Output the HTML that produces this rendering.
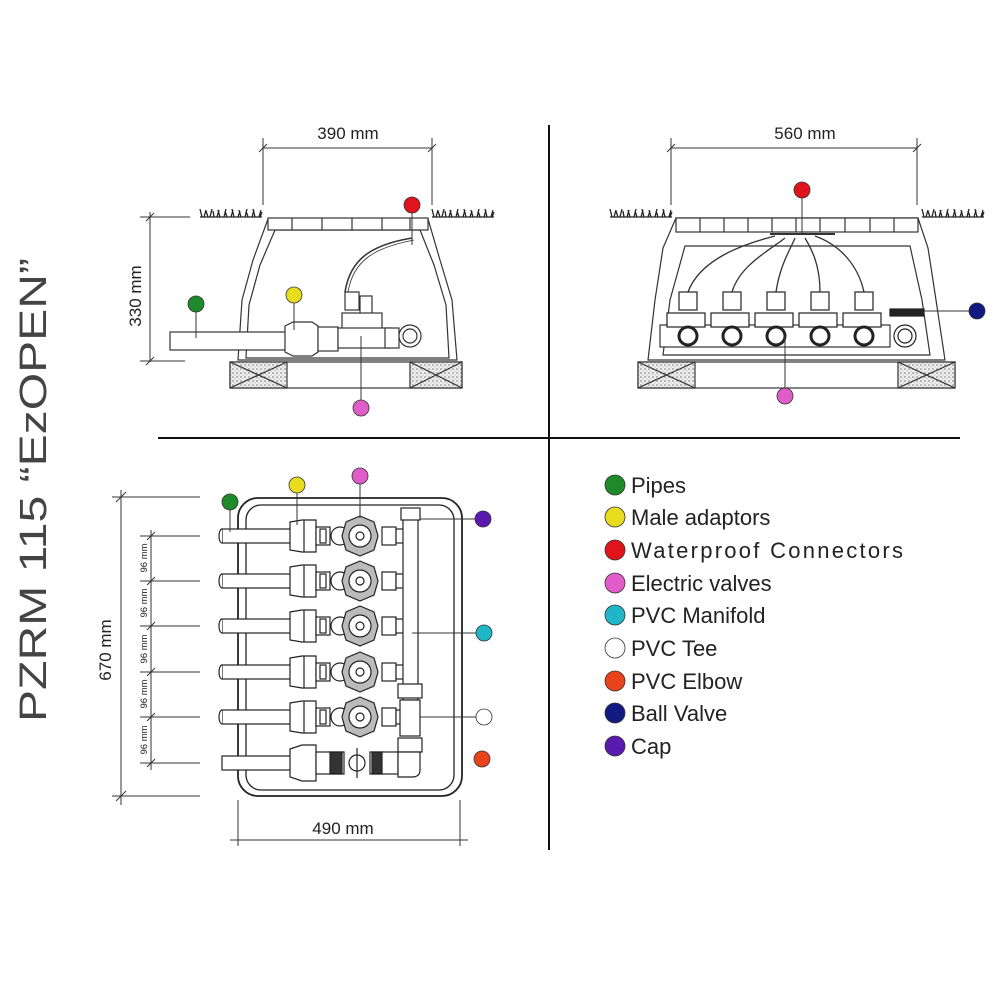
<!DOCTYPE html>
<html><head><meta charset="utf-8"><style>
html,body{margin:0;padding:0;background:#fff;}
svg{display:block}
text{font-family:"Liberation Sans",sans-serif;fill:#222}
</style></head><body>
<svg width="1000" height="1000" viewBox="0 0 1000 1000" xmlns="http://www.w3.org/2000/svg">
<defs>
<pattern id="hatch" width="4" height="4" patternUnits="userSpaceOnUse"><rect width="4" height="4" fill="#eee"/><circle cx="1" cy="1" r="0.8" fill="#777"/><circle cx="3" cy="3" r="0.5" fill="#999"/></pattern>
<g id="grass" stroke="#222" stroke-width="1.3" fill="none"><path d="M0 8 H62 M2 8 L0 0 M4 8 L6 1 M8 8 L6 2 M10 8 L12 0 M14 8 L13 2 M17 8 L19 1 M20 8 L18 1 M24 8 L26 0 M27 8 L25 2 M31 8 L33 1 M34 8 L32 0 M38 8 L40 2 M41 8 L39 1 M45 8 L47 0 M48 8 L46 2 M52 8 L54 1 M55 8 L53 0 M59 8 L61 1 M60 8 L62 3"/></g>
<g id="row" stroke="#222" stroke-width="1.2" fill="#fff">
<rect x="-20" y="-7" width="70" height="14"/>
<path d="M-20 -7 a3 7 0 0 0 0 14" />
<path d="M48 -14 L60 -16 H74 V16 H60 L48 14 Z"/>
<line x1="62" y1="-16" x2="62" y2="16"/>
<rect x="74" y="-9" width="14" height="18"/><rect x="78" y="-7" width="6" height="14"/>
<circle cx="98" cy="0" r="9"/>
<polygon points="118,-20 132,-14 136,0 132,14 118,20 104,14 100,0 104,-14" fill="#bbb"/>
<circle cx="118" cy="0" r="11"/><circle cx="118" cy="0" r="4"/>
<rect x="140" y="-9" width="14" height="18"/><rect x="154" y="-7" width="10" height="14"/>
</g>
</defs>

<text transform="translate(46,722) rotate(-90)" font-size="38" textLength="464" lengthAdjust="spacingAndGlyphs" style="fill:#444">PZRM 115 “EzOPEN”</text>

<line x1="549" y1="125" x2="549" y2="850" stroke="#111" stroke-width="2"/>
<line x1="158" y1="438" x2="960" y2="438" stroke="#111" stroke-width="2"/>

<g stroke="#333" stroke-width="1" fill="none">
<line x1="263" y1="148" x2="432" y2="148"/>
<line x1="263" y1="138" x2="263" y2="205"/><line x1="432" y1="138" x2="432" y2="205"/>
<line x1="259" y1="152" x2="267" y2="144"/><line x1="428" y1="152" x2="436" y2="144"/>
<line x1="150" y1="212" x2="150" y2="362"/>
<line x1="140" y1="217" x2="190" y2="217"/><line x1="140" y1="361" x2="185" y2="361"/>
<line x1="146" y1="221" x2="154" y2="213"/><line x1="146" y1="365" x2="154" y2="357"/>
</g>
<text x="348" y="139" font-size="17" text-anchor="middle">390 mm</text>
<text transform="translate(141,296) rotate(-90)" font-size="17" text-anchor="middle">330 mm</text>
<use href="#grass" x="200" y="209"/><use href="#grass" x="432" y="209"/>
<g stroke="#333" stroke-width="1.2" fill="#fff">
<path d="M268 219 H428 L440 260 L452 300 L457 360 H238 L242 300 L253 260 Z"/>
<path d="M275 230 H420 L434 265 L446 305 L449 358 H246 L249 305 L260 265 Z" fill="none"/>
<rect x="268" y="218" width="160" height="12"/>
<path d="M292 218 V230 M322 218 V230 M352 218 V230 M382 218 V230 M410 218 V230" />
<rect x="230" y="362" width="232" height="26"/>
<rect x="230" y="362" width="57" height="26" fill="url(#hatch)"/>
<rect x="410" y="362" width="52" height="26" fill="url(#hatch)"/>
<path d="M230 362 L287 388 M287 362 L230 388 M410 362 L462 388 M462 362 L410 388" fill="none"/>
<rect x="170" y="332" width="120" height="18"/>
<path d="M285 326 L293 322 H312 L318 326 V352 L312 356 H293 L285 352 Z"/>
<rect x="318" y="327" width="20" height="24"/>
<rect x="345" y="292" width="14" height="18"/><rect x="360" y="296" width="12" height="22"/>
<rect x="342" y="313" width="40" height="16"/>
<rect x="338" y="328" width="52" height="20"/>
<rect x="385" y="328" width="14" height="20"/>
<circle cx="410" cy="336" r="11"/><circle cx="410" cy="336" r="7"/>
</g>
<path d="M345 292 C350 260 370 245 412 238" stroke="#333" stroke-width="1.5" fill="none"/>
<path d="M348 292 C353 262 372 248 414 240" stroke="#333" stroke-width="0.8" fill="none"/>
<g stroke="#333" stroke-width="1"><line x1="196" y1="304" x2="196" y2="338"/><line x1="294" y1="295" x2="294" y2="330"/><line x1="412" y1="205" x2="412" y2="245"/><line x1="361" y1="336" x2="361" y2="408"/></g>
<g stroke="#333" stroke-width="0.8">
<circle cx="196" cy="304" r="8" fill="#1f8a2a"/><circle cx="294" cy="295" r="8" fill="#e8dc1e"/>
<circle cx="412" cy="205" r="8" fill="#e0141b"/><circle cx="361" cy="408" r="8" fill="#e05cc8"/>
</g>

<g stroke="#333" stroke-width="1" fill="none">
<line x1="671" y1="148" x2="917" y2="148"/>
<line x1="671" y1="138" x2="671" y2="205"/><line x1="917" y1="138" x2="917" y2="205"/>
<line x1="667" y1="152" x2="675" y2="144"/><line x1="913" y1="152" x2="921" y2="144"/>
</g>
<text x="805" y="139" font-size="17" text-anchor="middle">560 mm</text>
<use href="#grass" x="610" y="209"/><use href="#grass" x="922" y="209"/>
<g stroke="#333" stroke-width="1.2" fill="#fff">
<path d="M676 218 H918 L928 248 L936 300 L945 360 H648 L655 300 L663 248 Z"/>
<path d="M685 246 H910 L922 300 L930 355 H663 L670 300 Z" fill="none"/>
<rect x="676" y="218" width="242" height="14"/>
<path d="M700 218 V232 M724 218 V232 M748 218 V232 M772 218 V232 M796 218 V232 M820 218 V232 M845 218 V232 M870 218 V232 M894 218 V232"/>
<rect x="638" y="362" width="317" height="26"/>
<rect x="638" y="362" width="57" height="26" fill="url(#hatch)"/>
<rect x="898" y="362" width="57" height="26" fill="url(#hatch)"/>
<path d="M638 362 L695 388 M695 362 L638 388 M898 362 L955 388 M955 362 L898 388" fill="none"/>
<rect x="660" y="325" width="230" height="22"/>
</g>
<g stroke="#333" stroke-width="1.3" fill="none">
<path d="M688 292 C700 260 740 245 775 236"/><path d="M732 292 C740 265 770 250 785 238"/>
<path d="M776 292 C780 265 790 250 795 238"/><path d="M820 292 C820 265 812 250 805 238"/>
<path d="M864 292 C858 265 840 245 815 236"/>
<path d="M770 234 H835" stroke-width="2"/>
</g>
<g stroke="#222" stroke-width="1.2" fill="#fff">
<rect x="679" y="292" width="18" height="18"/><rect x="723" y="292" width="18" height="18"/><rect x="767" y="292" width="18" height="18"/><rect x="811" y="292" width="18" height="18"/><rect x="855" y="292" width="18" height="18"/>
<rect x="667" y="313" width="38" height="14"/><rect x="711" y="313" width="38" height="14"/><rect x="755" y="313" width="38" height="14"/><rect x="799" y="313" width="38" height="14"/><rect x="843" y="313" width="38" height="14"/>
<g stroke-width="3"><circle cx="688" cy="336" r="9"/><circle cx="732" cy="336" r="9"/><circle cx="776" cy="336" r="9"/><circle cx="820" cy="336" r="9"/><circle cx="864" cy="336" r="9"/></g>
<circle cx="905" cy="336" r="11"/><circle cx="905" cy="336" r="7"/>
<rect x="890" y="309" width="34" height="7" fill="#222"/>
</g>
<g stroke="#333" stroke-width="1"><line x1="802" y1="190" x2="802" y2="234"/><line x1="785" y1="336" x2="785" y2="396"/><line x1="924" y1="311" x2="977" y2="311"/></g>
<g stroke="#333" stroke-width="0.8">
<circle cx="802" cy="190" r="8" fill="#e0141b"/><circle cx="785" cy="396" r="8" fill="#e05cc8"/><circle cx="977" cy="311" r="8" fill="#101a80"/>
</g>

<g stroke="#333" stroke-width="1" fill="none">
<line x1="121" y1="490" x2="121" y2="805"/>
<line x1="112" y1="497" x2="200" y2="497"/><line x1="112" y1="796" x2="200" y2="796"/>
<line x1="116" y1="502" x2="126" y2="492"/><line x1="116" y1="801" x2="126" y2="791"/>
<line x1="151" y1="530" x2="151" y2="770"/>
<line x1="140" y1="536" x2="200" y2="536"/><line x1="140" y1="581" x2="200" y2="581"/><line x1="140" y1="626" x2="200" y2="626"/><line x1="140" y1="672" x2="200" y2="672"/><line x1="140" y1="717" x2="200" y2="717"/><line x1="140" y1="763" x2="200" y2="763"/>
<line x1="147" y1="540" x2="155" y2="532"/><line x1="147" y1="585" x2="155" y2="577"/><line x1="147" y1="630" x2="155" y2="622"/><line x1="147" y1="676" x2="155" y2="668"/><line x1="147" y1="721" x2="155" y2="713"/><line x1="147" y1="767" x2="155" y2="759"/>
<line x1="238" y1="800" x2="238" y2="846"/><line x1="460" y1="800" x2="460" y2="846"/>
<line x1="230" y1="840" x2="468" y2="840"/>
</g>
<text transform="translate(111,650) rotate(-90)" font-size="17" text-anchor="middle">670 mm</text>
<g font-size="9.5" text-anchor="middle">
<text transform="translate(147,558) rotate(-90)">96 mm</text>
<text transform="translate(147,603) rotate(-90)">96 mm</text>
<text transform="translate(147,649) rotate(-90)">96 mm</text>
<text transform="translate(147,694) rotate(-90)">96 mm</text>
<text transform="translate(147,740) rotate(-90)">96 mm</text>
</g>
<text x="343" y="834" font-size="17" text-anchor="middle">490 mm</text>
<rect x="238" y="498" width="224" height="298" rx="20" fill="none" stroke="#222" stroke-width="1.8"/>
<rect x="246" y="505" width="208" height="285" rx="15" fill="none" stroke="#222" stroke-width="1.3"/>
<use href="#row" x="242" y="536"/><use href="#row" x="242" y="581"/><use href="#row" x="242" y="626"/><use href="#row" x="242" y="672"/><use href="#row" x="242" y="717"/>
<g stroke="#222" stroke-width="1.2" fill="#fff">
<rect x="222" y="756" width="70" height="14"/>
<path d="M290 749 L302 745 H316 V781 H302 L290 777 Z"/>
<rect x="316" y="752" width="28" height="22"/><rect x="330" y="752" width="12" height="22" fill="#333"/>
<circle cx="357" cy="763" r="8"/><path d="M357 748 V778" />
<rect x="370" y="752" width="28" height="22"/><rect x="372" y="752" width="10" height="22" fill="#333"/>
<rect x="403" y="512" width="15" height="188"/>
<rect x="401" y="508" width="19" height="12"/>
<rect x="400" y="700" width="20" height="36"/>
<rect x="398" y="684" width="24" height="14"/><rect x="398" y="738" width="24" height="14"/>
<path d="M400 752 H420 V770 Q420 777 412 777 H398 V752 Z"/>
</g>
<g stroke="#333" stroke-width="1">
<line x1="230" y1="502" x2="230" y2="532"/><line x1="297" y1="485" x2="297" y2="525"/><line x1="360" y1="476" x2="360" y2="518"/>
<line x1="420" y1="519" x2="483" y2="519"/><line x1="412" y1="633" x2="484" y2="633"/><line x1="420" y1="717" x2="484" y2="717"/>
</g>
<g stroke="#333" stroke-width="0.8">
<circle cx="230" cy="502" r="8" fill="#1f8a2a"/><circle cx="297" cy="485" r="8" fill="#e8dc1e"/><circle cx="360" cy="476" r="8" fill="#e05cc8"/>
<circle cx="483" cy="519" r="8" fill="#5a1ab0"/><circle cx="484" cy="633" r="8" fill="#1fb6c8"/><circle cx="484" cy="717" r="8" fill="#fff"/><circle cx="482" cy="759" r="8" fill="#e8431a"/>
</g>

<g stroke="#333" stroke-width="0.8">
<circle cx="615" cy="485" r="10" fill="#1f8a2a"/>
<circle cx="615" cy="517" r="10" fill="#e8dc1e"/>
<circle cx="615" cy="550" r="10" fill="#e0141b"/>
<circle cx="615" cy="583" r="10" fill="#e05cc8"/>
<circle cx="615" cy="615" r="10" fill="#1fb6c8"/>
<circle cx="615" cy="648" r="10" fill="#fff"/>
<circle cx="615" cy="681" r="10" fill="#e8431a"/>
<circle cx="615" cy="713" r="10" fill="#101a80"/>
<circle cx="615" cy="746" r="10" fill="#5a1ab0"/>
</g>
<g font-size="22">
<text x="631" y="493">Pipes</text>
<text x="631" y="525">Male adaptors</text>
<text x="631" y="558" textLength="272" lengthAdjust="spacing">Waterproof Connectors</text>
<text x="631" y="591">Electric valves</text>
<text x="631" y="623">PVC Manifold</text>
<text x="631" y="656">PVC Tee</text>
<text x="631" y="689">PVC Elbow</text>
<text x="631" y="721">Ball Valve</text>
<text x="631" y="754">Cap</text>
</g>
</svg>
</body></html>
